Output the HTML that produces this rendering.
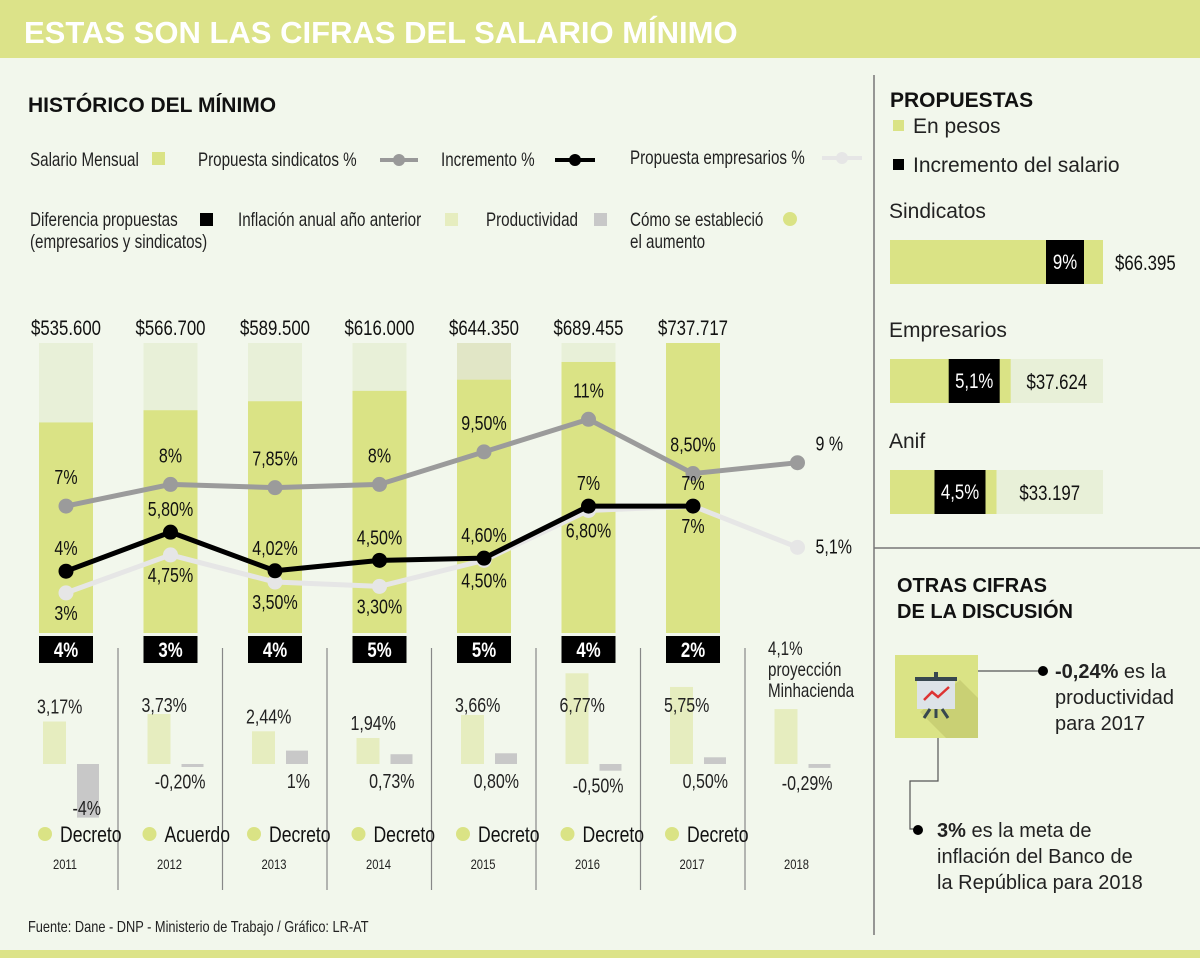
<!DOCTYPE html>
<html><head><meta charset="utf-8">
<style>
html,body{margin:0;padding:0;background:#f2f7ec;}
svg{display:block;}
.n{font-family:"Liberation Sans",sans-serif;}
.s{font-family:"Liberation Sans",sans-serif;}
</style></head>
<body>
<svg id="c" width="1200" height="958" viewBox="0 0 1200 958" xmlns="http://www.w3.org/2000/svg">
<rect x="0" y="0" width="1200" height="958" fill="#f2f7ec"/>
<rect x="0" y="0" width="1200" height="58" fill="#dce389"/>
<text x="24" y="43" class="s" font-size="31" font-weight="bold" fill="#fff">ESTAS SON LAS CIFRAS  DEL SALARIO MÍNIMO</text>
<rect x="0" y="950" width="1200" height="8" fill="#dce389"/>
<line x1="874" y1="75" x2="874" y2="935" stroke="#777" stroke-width="1.5"/>
<line x1="874" y1="548" x2="1200" y2="548" stroke="#777" stroke-width="1.5"/>

<text x="28" y="112" class="s" font-size="21" font-weight="bold" fill="#111">HISTÓRICO DEL MÍNIMO</text>

<g font-size="19" fill="#222">
<text class="n" x="30" y="166">Salario Mensual</text>
<rect x="152" y="152" width="13" height="13" fill="#dae385"/>
<text class="n" x="198" y="166">Propuesta sindicatos %</text>
<line x1="380" y1="160" x2="418" y2="160" stroke="#999" stroke-width="4"/><circle cx="399" cy="160" r="6" fill="#999"/>
<text class="n" x="441" y="166">Incremento %</text>
<line x1="555" y1="160" x2="595" y2="160" stroke="#000" stroke-width="4"/><circle cx="575" cy="160" r="6" fill="#000"/>
<text class="n" x="630" y="164">Propuesta empresarios %</text>
<line x1="822" y1="158" x2="862" y2="158" stroke="#e6e6e6" stroke-width="4"/><circle cx="842" cy="158" r="6" fill="#e6e6e6"/>
<text class="n" x="30" y="226">Diferencia propuestas</text>
<text class="n" x="30" y="248">(empresarios y sindicatos)</text>
<rect x="200" y="213" width="13" height="13" fill="#000"/>
<text class="n" x="238" y="226">Inflación anual año anterior</text>
<rect x="445" y="213" width="13" height="13" fill="#e6edbf"/>
<text class="n" x="486" y="226">Productividad</text>
<rect x="594" y="213" width="13" height="13" fill="#c8c8c8"/>
<text class="n" x="630" y="226">Cómo se estableció</text>
<text class="n" x="630" y="248">el aumento</text>
<circle cx="790" cy="219" r="7" fill="#dae385"/>
</g>

<g id="chart"></g>

<text x="28" y="932" class="n" font-size="16" fill="#222">Fuente: Dane - DNP - Ministerio de Trabajo / Gráfico: LR-AT</text>

<text x="890" y="107" class="s" font-size="21" font-weight="bold" fill="#111">PROPUESTAS</text>
<rect x="893" y="120" width="11" height="11" fill="#dae385"/>
<text x="913" y="133" class="s" font-size="21" fill="#222">En pesos</text>
<rect x="893" y="159" width="11" height="11" fill="#000"/>
<text x="913" y="172" class="s" font-size="21" fill="#222">Incremento del salario</text>
<g id="prop"></g>

<text x="897" y="592" class="s" font-size="20" font-weight="bold" fill="#111">OTRAS CIFRAS</text>
<text x="897" y="618" class="s" font-size="20" font-weight="bold" fill="#111">DE LA DISCUSIÓN</text>
<g>
<rect x="895" y="655" width="83" height="83" fill="#dae385"/>
<polygon points="960,680 978,698 978,738 946,738 920,712" fill="#c9d074"/>
<rect x="915" y="677" width="42" height="4" fill="#37474f"/>
<rect x="934" y="672" width="4" height="6" fill="#37474f"/>
<rect x="917" y="681" width="38" height="28" fill="#dde3e8"/>
<polyline points="924,700 932,692 938,697 949,687" fill="none" stroke="#d33" stroke-width="2.5"/>
<line x1="936" y1="709" x2="936" y2="718" stroke="#37474f" stroke-width="3"/>
<line x1="930" y1="709" x2="924" y2="718" stroke="#37474f" stroke-width="3"/>
<line x1="942" y1="709" x2="948" y2="718" stroke="#37474f" stroke-width="3"/>
</g>
<polyline points="978,671 1042,671" fill="none" stroke="#555" stroke-width="1.2"/>
<circle cx="1043" cy="671" r="5" fill="#000"/>
<text class="s" font-size="20" fill="#222"><tspan x="1055" y="678"><tspan font-weight="bold">-0,24%</tspan> es la</tspan><tspan x="1055" y="704">productividad</tspan><tspan x="1055" y="730">para 2017</tspan></text>
<polyline points="938,738 938,781 910,781 910,829 915,829" fill="none" stroke="#555" stroke-width="1.2"/>
<circle cx="918" cy="830" r="5" fill="#000"/>
<text class="s" font-size="20" fill="#222"><tspan x="937" y="837"><tspan font-weight="bold">3%</tspan> es la meta de</tspan><tspan x="937" y="863">inflación del Banco de</tspan><tspan x="937" y="889">la República para 2018</tspan></text>
</svg>
<script>
const years=['2011','2012','2013','2014','2015','2016','2017','2018'];
const salario=[535600,566700,589500,616000,644350,689455,737717];
const salarioLabels=['$535.600','$566.700','$589.500','$616.000','$644.350','$689.455','$737.717'];
const sindicatos=[7,8,7.85,8,9.5,11,8.5,9];
const sindicatosLabels=['7%','8%','7,85%','8%','9,50%','11%','8,50%','9 %'];
const incremento=[4,5.8,4.02,4.5,4.6,7,7];
const incrementoLabels=['4%','5,80%','4,02%','4,50%','4,60%','7%','7%'];
const empresarios=[3,4.75,3.5,3.3,4.5,6.8,7,5.1];
const empresariosLabels=['3%','4,75%','3,50%','3,30%','4,50%','6,80%','7%','5,1%'];
const diferencia=['4%','3%','4%','5%','5%','4%','2%'];
const inflacion=[3.17,3.73,2.44,1.94,3.66,6.77,5.75,4.1];
const inflacionLabels=['3,17%','3,73%','2,44%','1,94%','3,66%','6,77%','5,75%',''];
const productividad=[-4,-0.2,1,0.73,0.8,-0.5,0.5,-0.29];
const productividadLabels=['-4%','-0,20%','1%','0,73%','0,80%','-0,50%','0,50%','-0,29%'];
const metodo=['Decreto','Acuerdo','Decreto','Decreto','Decreto','Decreto','Decreto',''];
const propNames=['Sindicatos','Empresarios','Anif'];
const propPct=[9,5.1,4.5];
const propPctLabels=['9%','5,1%','4,5%'];
const propPesos=[66395,37624,33197];
const propPesosLabels=['$66.395','$37.624','$33.197'];

const NS='http://www.w3.org/2000/svg';
const g=document.getElementById('chart');
function mk(tag,attrs,parent,txt){const e=document.createElementNS(NS,tag);for(const k in attrs)e.setAttribute(k,attrs[k]);if(txt!==undefined)e.textContent=txt;(parent||g).appendChild(e);return e;}
const xC=i=>66+i*104.5;
const barW=54, barBase=633, barTop=343;
const maxSal=Math.max(...salario);
const ySal=v=>barBase-(v/maxSal)*(barBase-barTop);
const yPct=v=>658-21.7*v;
const yLow=v=>764-13.4*v;

salario.forEach((v,i)=>{
  const bg=mk('rect',{x:xC(i)-barW/2,y:barTop,width:barW,height:barBase-barTop,fill:i===4?'#e1e6c6':'#e8f0d8'});
  
  
  const r=mk('rect',{x:xC(i)-barW/2,y:ySal(v),width:barW,height:barBase-ySal(v),fill:'#dae385'});
  
  
  const t=mk('text',{x:xC(i),y:335,'text-anchor':'middle','font-size':21,fill:'#111',class:'n'},g,salarioLabels[i]);
  
  
});
function line(vals,labels,color,name,dy){
  const pts=vals.map((v,i)=>xC(i)+','+yPct(v)).join(' ');
  const p=mk('polyline',{points:pts,fill:'none',stroke:color,'stroke-width':5,'stroke-linejoin':'round'});
  
  
  vals.forEach((v,i)=>{
    const c=mk('circle',{cx:xC(i),cy:yPct(v),r:7.5,fill:color});
    
    
    const t=mk('text',{x:xC(i)+(i===7?18:0),y:yPct(v)+(i===7?(dy<0?-12:6):dy),'text-anchor':i===7?'start':'middle','font-size':20,fill:'#111',class:'n'},g,labels[i]);
    
    
  });
}
line(empresarios,empresariosLabels,'#e6e6e6','empresarios',27);
line(sindicatos,sindicatosLabels,'#9b9b9b','sindicatos',-22);
line(incremento,incrementoLabels,'#000','incremento',-16);

diferencia.forEach((d,i)=>{
  const r=mk('rect',{x:xC(i)-barW/2,y:636,width:barW,height:27,fill:'#000'});
  
  
  const t=mk('text',{x:xC(i),y:657,'text-anchor':'middle','font-size':21,'font-weight':'bold',fill:'#fff',class:'n'},g,d);
  
  
});
const proj=mk('text',{x:768,y:655,'font-size':19,fill:'#222',class:'n'},g);


['4,1%','proyección','Minhacienda'].forEach((s,k)=>mk('tspan',{x:768,y:655+k*21},proj,s));

for(let i=0;i<7;i++){
  const l=mk('line',{x1:xC(i)+52,y1:648,x2:xC(i)+52,y2:890,stroke:'#888','stroke-width':1.2});
  
  
}
inflacion.forEach((v,i)=>{
  const x0=xC(i)-23;
  const r=mk('rect',{x:x0,y:yLow(v),width:23,height:764-yLow(v),fill:'#e6edbf'});
  
  
  const p=productividad[i];
  const y1=Math.min(yLow(p),764), h=Math.abs(yLow(p)-764);
  const r2=mk('rect',{x:x0+34,y:y1,width:22,height:Math.max(h,3),fill:'#c8c8c8'});
  
  
  if(inflacionLabels[i]){
    const t=mk('text',{x:x0-6,y:Math.max(yLow(v)-8,712),'font-size':20,fill:'#222',class:'n'},g,inflacionLabels[i]);
    
    
  }
  const py=p<0?Math.max(yLow(p),764)+22:yLow(0)+24+ (p>0.75?0:0);
  const t2=mk('text',{x:x0+58,y:Math.min(py,815),'text-anchor':'end','font-size':20,fill:'#222',class:'n'},g,productividadLabels[i]);
  
  
  if(metodo[i]){
    const c=mk('circle',{cx:x0+2,cy:834,r:7,fill:'#dae385'});
    
    
    const t3=mk('text',{x:x0+17,y:842,'font-size':22,fill:'#111',class:'n'},g,metodo[i]);
    
    
  }
  const ty=mk('text',{x:xC(i)-1,y:869,'text-anchor':'middle','font-size':14,fill:'#222',class:'n'},g,years[i]);
  
  
});

const pg=document.getElementById('prop');
const pTop=[240,359,470];
const maxP=Math.max(...propPesos);
propNames.forEach((nm,i)=>{
  const y=pTop[i];
  const t=mk('text',{x:889,y:y-22,'font-size':21,fill:'#222',class:'s'},pg,nm);
  
  
  const bg=mk('rect',{x:890,y:y,width:213,height:44,fill:'#e8f0d8'},pg);
  
  
  const gw=propPesos[i]/maxP*213;
  const gr=mk('rect',{x:890,y:y,width:gw,height:44,fill:'#dae385'},pg);
  
  
  const bw=i===0?38:51;
  const bx=i===0?1046:890+gw-11-bw;
  const br=mk('rect',{x:bx,y:y,width:bw,height:44,fill:'#000'},pg);
  
  
  const pt=mk('text',{x:bx+bw/2,y:y+29,'text-anchor':'middle','font-size':21,fill:'#fff',class:'n'},pg,propPctLabels[i]);
  
  
  const vx=i===0?1115:(890+gw+(213-gw)/2);
  const vt=mk('text',{x:vx,y:y+30,'text-anchor':i===0?'start':'middle','font-size':21,fill:'#111',class:'n'},pg,propPesosLabels[i]);
  
  
});

// emulate condensed font: horizontal squeeze around each text's anchor x
document.querySelectorAll('text.n').forEach(t=>{
  const x=parseFloat(t.getAttribute('x'));
  t.setAttribute('transform','translate('+x+',0) scale(0.8,1) translate('+(-x)+',0)');
});
</script>
</body></html>
